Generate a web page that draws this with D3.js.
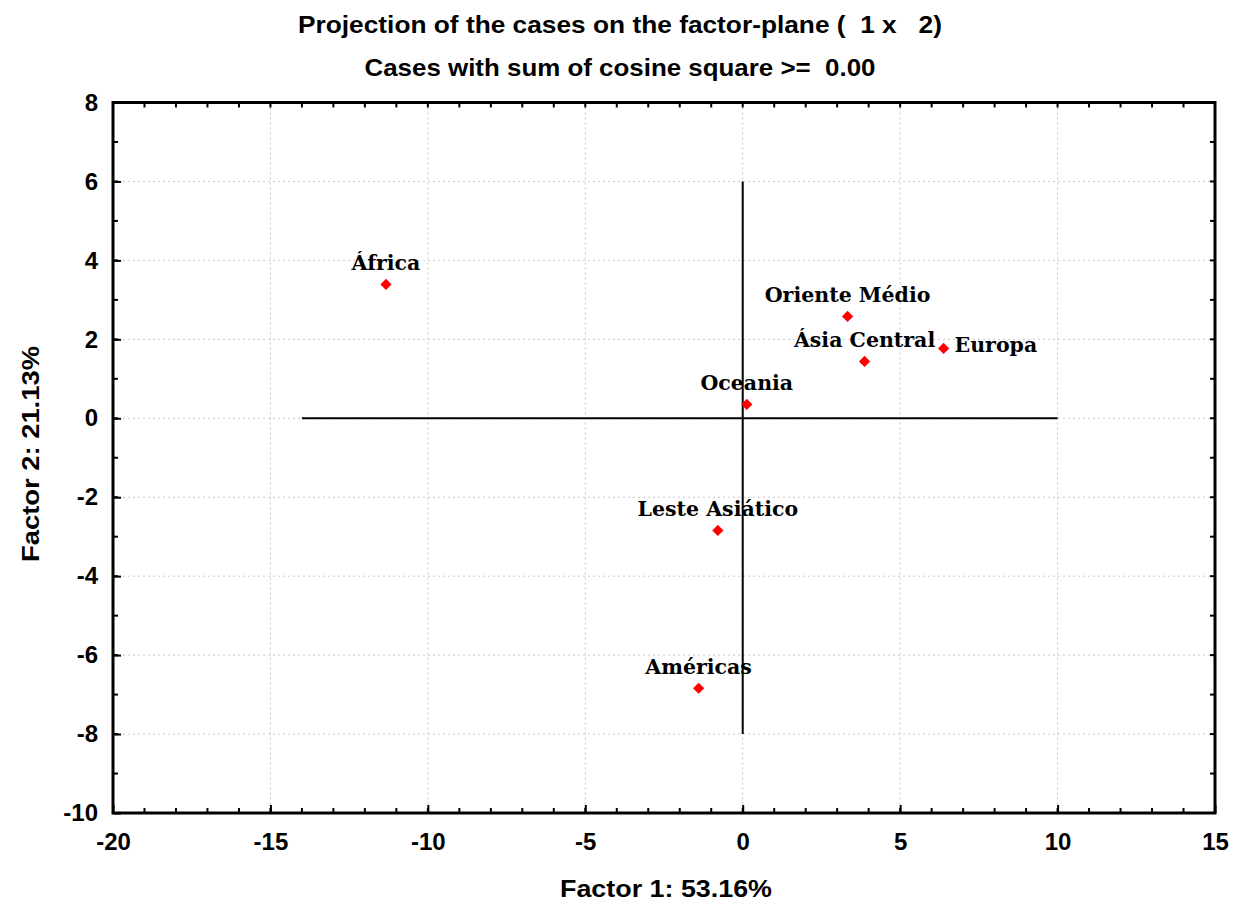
<!DOCTYPE html>
<html>
<head>
  <meta charset="utf-8">
  <title>Projection of the cases on the factor-plane</title>
  <style>
    body { margin: 0; background: #fff; }
    .title { font-family: "Liberation Sans Narrow", Arial, sans-serif; font-weight: bold; font-size: 24px; white-space: pre; }
    .tick text { font-family: Arial, "Liberation Sans", sans-serif; font-weight: bold; font-size: 24px; fill: #000; }
    .axis-title { font-family: Arial, "Liberation Sans", sans-serif; font-weight: bold; font-size: 23px; }
    .grid line { stroke: #c8c8c8; stroke-dasharray: 2,3; }
    .pt-label { font-family: "DejaVu Serif", serif; font-weight: bold; font-size: 20.5px; }
  </style>
</head>
<body>
  <svg width="1234" height="908"></svg>
  <script src="https://d3js.org/d3.v7.min.js"></script>
  <script>
    // cases and their factor scores
    const cases = ["África", "Oriente Médio", "Ásia Central", "Europa", "Oceania", "Leste Asiático", "Américas"];
    const factor1 = [-11.33, 3.33, 3.87, 6.38, 0.13, -0.79, -1.40];
    const factor2 = [3.39, 2.58, 1.44, 1.77, 0.35, -2.84, -6.84];
    const labelSide = ["top", "top", "top", "right", "top", "top", "top"];

    const xTicks = [-20, -15, -10, -5, 0, 5, 10, 15];
    const yTicks = [-10, -8, -6, -4, -2, 0, 2, 4, 6, 8];

    const svg = d3.select("svg");
    const pl = 113, pr = 1215, pt = 102.5, pb = 813;

    const x = d3.scaleLinear().domain([-20, 15]).range([pl, pr]);
    const y = d3.scaleLinear().domain([-10, 8]).range([pb, pt]);

    // titles (the original uses a tall condensed face)
    svg.append("text").attr("class", "title")
      .attr("x", 620).attr("y", 33).attr("text-anchor", "middle")
      .attr("textLength", 644).attr("lengthAdjust", "spacingAndGlyphs")
      .text("Projection of the cases on the factor-plane (  1 x   2)");
    svg.append("text").attr("class", "title")
      .attr("x", 620).attr("y", 76).attr("text-anchor", "middle")
      .attr("textLength", 511).attr("lengthAdjust", "spacingAndGlyphs")
      .text("Cases with sum of cosine square >=  0.00");

    // grid
    svg.append("g").attr("class", "grid")
      .selectAll("line").data(xTicks.slice(1, -1)).enter().append("line")
      .attr("x1", d => x(d)).attr("x2", d => x(d))
      .attr("y1", pt).attr("y2", pb);
    svg.append("g").attr("class", "grid")
      .selectAll("line").data(yTicks.slice(1, -1)).enter().append("line")
      .attr("y1", d => y(d)).attr("y2", d => y(d))
      .attr("x1", pl).attr("x2", pr);

    // axes, ticks pointing inward
    const xMinor = d3.range(-20, 15.01, 1);
    const yMinor = d3.range(-10, 8.01, 1);

    const xAxis = d3.axisBottom(x).tickValues(xTicks).tickSize(-8).tickPadding(20).tickFormat(d => String(d));
    const yAxis = d3.axisLeft(y).tickValues(yTicks).tickSize(-8).tickPadding(15).tickFormat(d => String(d));

    const gx = svg.append("g").attr("transform", `translate(0,${pb})`).call(xAxis);
    const gy = svg.append("g").attr("transform", `translate(${pl},0)`).call(yAxis);
    [gx, gy].forEach(g => {
      g.select(".domain").remove();
      g.selectAll(".tick line").attr("stroke", "#000").attr("stroke-width", 2);
    });

    const minor = svg.append("g").attr("stroke", "#000").attr("stroke-width", 2);
    minor.selectAll(".mb").data(xMinor).enter().append("line")
      .attr("x1", d => x(d)).attr("x2", d => x(d)).attr("y1", pb).attr("y2", pb - 5);
    minor.selectAll(".mt").data(xMinor).enter().append("line")
      .attr("x1", d => x(d)).attr("x2", d => x(d)).attr("y1", pt).attr("y2", pt + 5);
    minor.selectAll(".ml").data(yMinor).enter().append("line")
      .attr("y1", d => y(d)).attr("y2", d => y(d)).attr("x1", pl).attr("x2", pl + 5);
    minor.selectAll(".mr").data(yMinor).enter().append("line")
      .attr("y1", d => y(d)).attr("y2", d => y(d)).attr("x1", pr).attr("x2", pr - 5);

    // frame
    svg.append("rect")
      .attr("x", pl).attr("y", pt)
      .attr("width", pr - pl).attr("height", pb - pt)
      .attr("fill", "none").attr("stroke", "#000").attr("stroke-width", 3);

    // origin cross
    svg.append("line").attr("x1", x(-14)).attr("x2", x(10))
      .attr("y1", y(0)).attr("y2", y(0)).attr("stroke", "#000").attr("stroke-width", 2);
    svg.append("line").attr("x1", x(0)).attr("x2", x(0))
      .attr("y1", y(6)).attr("y2", y(-8)).attr("stroke", "#000").attr("stroke-width", 2);

    // axis titles
    svg.append("text").attr("class", "axis-title")
      .attr("x", 666).attr("y", 897).attr("text-anchor", "middle")
      .attr("textLength", 212).attr("lengthAdjust", "spacingAndGlyphs")
      .text("Factor 1: 53.16%");
    svg.append("text").attr("class", "axis-title")
      .attr("transform", "translate(39,454) rotate(-90)").attr("text-anchor", "middle")
      .attr("textLength", 216).attr("lengthAdjust", "spacingAndGlyphs")
      .text("Factor 2: 21.13%");

    // points
    const pts = cases.map((c, i) => ({ name: c, f1: factor1[i], f2: factor2[i], side: labelSide[i] }));
    const diamond = d3.symbol().type(d3.symbolDiamond2).size(80);

    svg.append("g").selectAll("path").data(pts).enter().append("path")
      .attr("d", diamond)
      .attr("transform", d => `translate(${x(d.f1)},${y(d.f2)})`)
      .attr("fill", "#ff0000");

    svg.append("g").selectAll("text").data(pts).enter().append("text")
      .attr("class", "pt-label")
      .attr("x", d => d.side === "right" ? x(d.f1) + 11 : x(d.f1))
      .attr("y", d => d.side === "right" ? y(d.f2) + 4 : y(d.f2) - 14)
      .attr("text-anchor", d => d.side === "right" ? "start" : "middle")
      .text(d => d.name);
  </script>
</body>
</html>
